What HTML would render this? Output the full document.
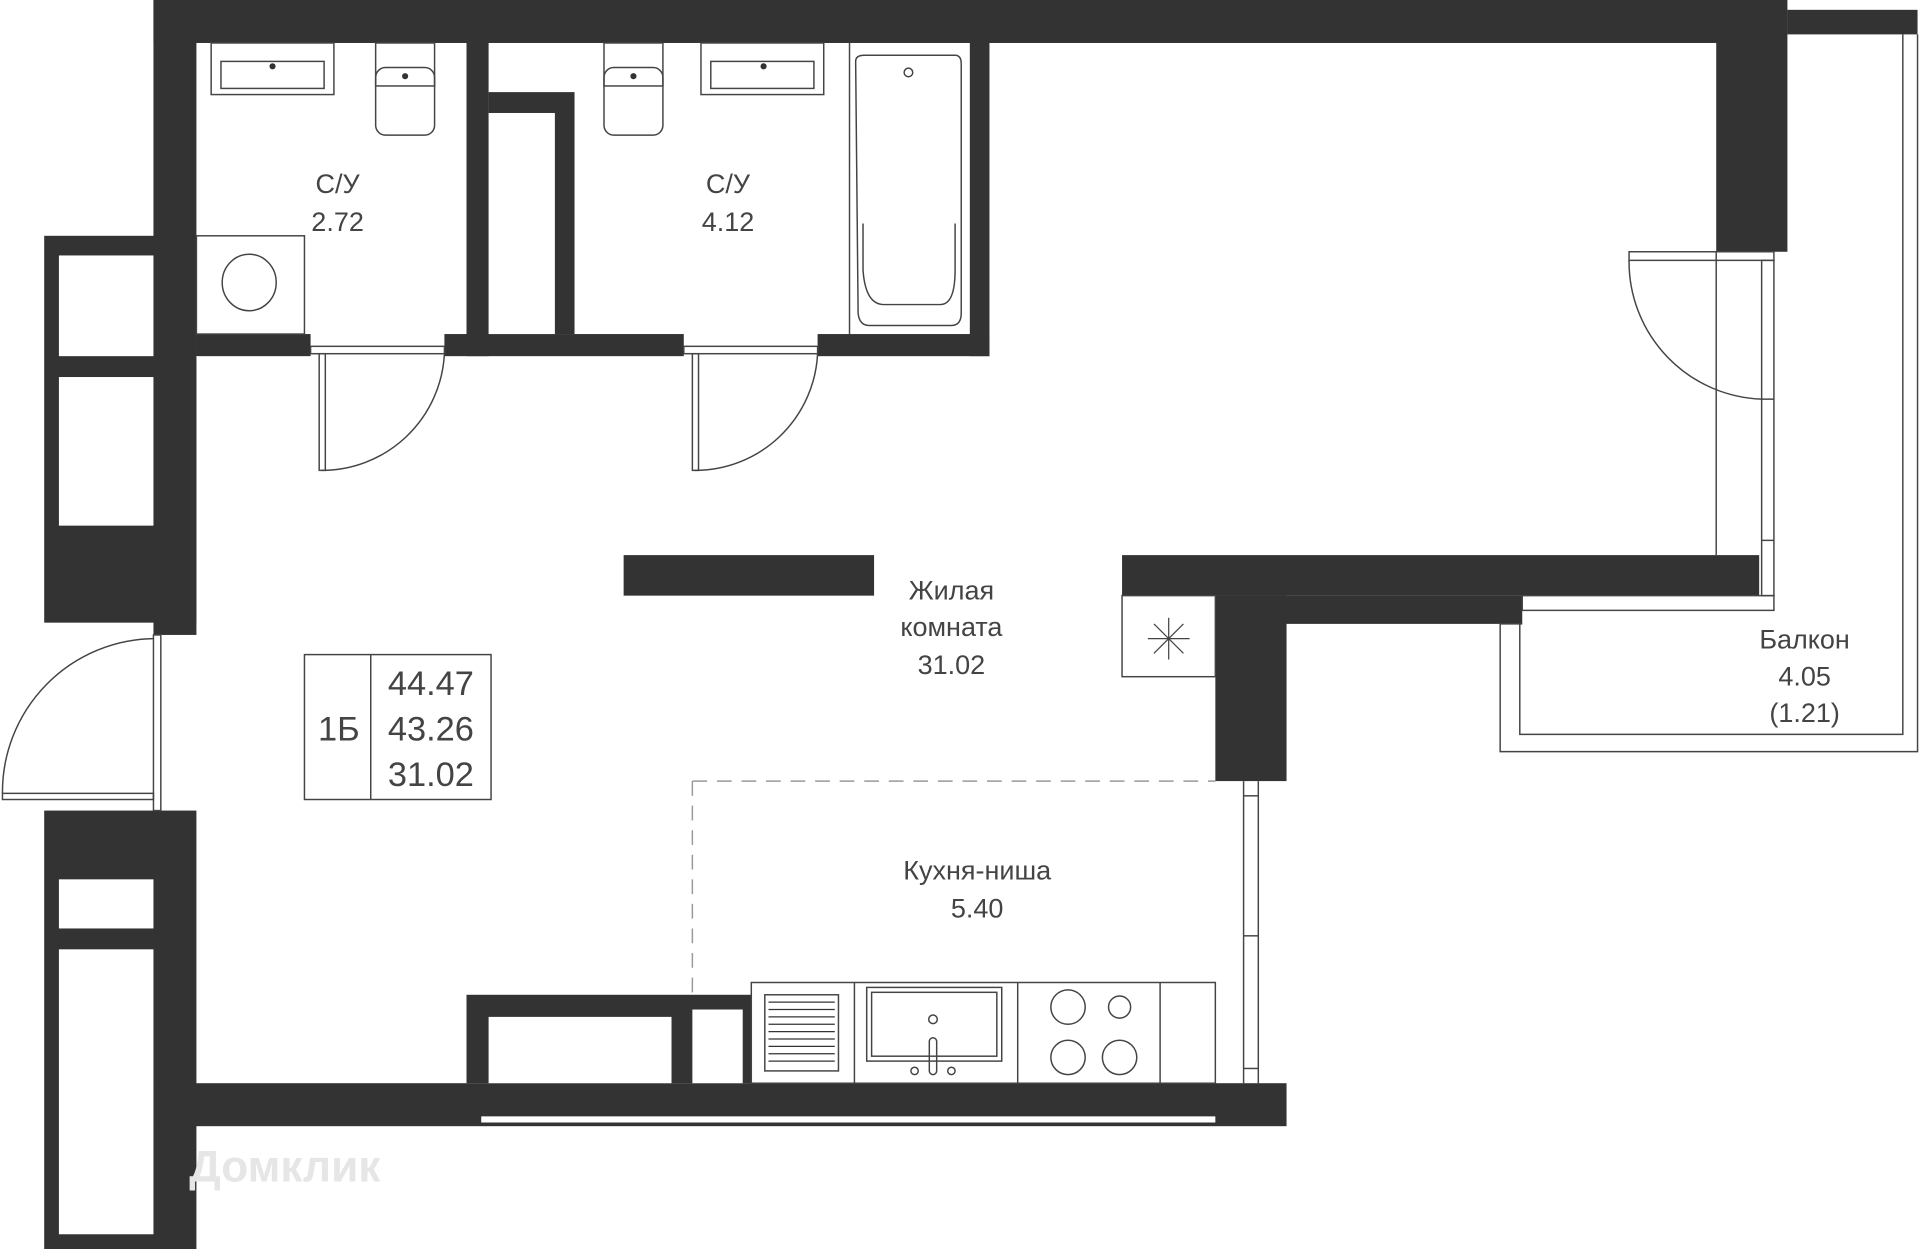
<!DOCTYPE html>
<html><head><meta charset="utf-8"><style>
html,body{margin:0;padding:0;background:#fff}
svg{display:block}
text{font-family:"Liberation Sans","DejaVu Sans",sans-serif;fill:#444;text-anchor:middle}
</style></head><body>
<svg width="1920" height="1249" viewBox="0 0 1564 1017" preserveAspectRatio="none" xmlns="http://www.w3.org/2000/svg">
<g fill="#333">
<rect x="125" y="0" width="1331" height="35"/>
<rect x="1456" y="8" width="106" height="20"/>
<rect x="1398" y="35" width="58" height="170"/>
<rect x="125" y="0" width="35" height="517"/>
<rect x="36" y="192" width="124" height="315"/>
<rect x="36" y="660" width="124" height="357"/>
<rect x="125" y="882" width="923" height="35"/>
<rect x="160" y="272" width="93" height="18"/>
<rect x="362" y="272" width="195" height="18"/>
<rect x="666" y="272" width="140" height="18"/>
<rect x="380" y="35" width="18" height="255"/>
<rect x="398" y="75" width="70" height="197"/>
<rect x="790" y="35" width="16" height="255"/>
<rect x="914" y="452" width="519" height="33"/>
<rect x="990" y="485" width="250" height="23"/>
<rect x="990" y="485" width="58" height="151"/>
<rect x="508" y="452" width="204" height="33"/>
<rect x="380" y="810" width="232" height="72"/>
</g>
<g fill="#fff">
<rect x="48" y="208" width="77" height="82"/>
<rect x="48" y="307" width="77" height="121"/>
<rect x="48" y="716" width="77" height="40"/>
<rect x="48" y="773" width="77" height="232"/>
<rect x="398" y="92" width="54" height="180"/>
<rect x="398" y="828" width="149" height="54"/>
<rect x="564" y="822" width="41" height="60"/>
<rect x="392" y="909" width="598" height="5"/>
<rect x="160" y="290" width="1" height="1"/>
</g>
<g fill="none" stroke="#444" stroke-width="1.2">
<!-- entry door -->
<rect x="125" y="517" width="6" height="143"/>
<path d="M125 520 A125 125 0 0 0 2 646"/>
<rect x="2" y="646" width="123" height="5"/>
<!-- bath doors -->
<rect x="253" y="282" width="109" height="6"/>
<rect x="260" y="288" width="5" height="95"/>
<path d="M262 383 A100 100 0 0 0 362 288"/>
<rect x="557" y="282" width="109" height="6"/>
<rect x="564" y="288" width="5" height="95"/>
<path d="M566 383 A100 100 0 0 0 666 288"/>
<!-- balcony door -->
<rect x="1327" y="205" width="118" height="7"/>
<path d="M1327 212 A112 112 0 0 0 1435 325"/>
<line x1="1398" y1="205" x2="1398" y2="452"/>
<rect x="1435" y="212" width="10" height="273"/>
<line x1="1435" y1="325" x2="1445" y2="325"/>
<line x1="1435" y1="440" x2="1445" y2="440"/>
<rect x="1240" y="485" width="205" height="12"/>
<!-- balcony -->
<path d="M1240 508 H1222 V612 H1562 V28"/>
<path d="M1238 508 V598 H1550 V28"/>
<!-- vent -->
<rect x="914" y="485" width="76" height="66"/>
<path d="M952 503 V537 M935 520 H969 M940 508 L964 532 M964 508 L940 532" stroke-width="1"/>
<!-- kitchen window -->
<line x1="1013" y1="636" x2="1013" y2="882"/>
<line x1="1025" y1="636" x2="1025" y2="882"/>
<line x1="1013" y1="648" x2="1025" y2="648"/>
<line x1="1013" y1="762" x2="1025" y2="762"/>
<line x1="1013" y1="870" x2="1025" y2="870"/>
<!-- dashed -->
<path d="M564 636 H990 M564 636 V810" stroke="#999" stroke-dasharray="12 8"/>
<!-- info box -->
<rect x="248" y="533" width="152" height="118"/>
<line x1="302" y1="533" x2="302" y2="651"/>
<!-- kitchen counter -->
<rect x="612" y="800" width="378" height="82"/>
<line x1="696" y1="800" x2="696" y2="882"/>
<line x1="829" y1="800" x2="829" y2="882"/>
<line x1="945" y1="800" x2="945" y2="882"/>
<rect x="623" y="810" width="60" height="62"/>
<rect x="706" y="804" width="110" height="60"/>
<rect x="710" y="808" width="102" height="52"/>
<circle cx="760" cy="830" r="3.5"/>
<rect x="757" y="845" width="6" height="30" rx="3"/>
<circle cx="745" cy="872" r="3"/><circle cx="775" cy="872" r="3"/>
<circle cx="870" cy="820" r="14"/><circle cx="912" cy="820" r="9"/>
<circle cx="870" cy="861" r="14"/><circle cx="912" cy="861" r="14"/>
<!-- bath 1 fixtures -->
<rect x="172" y="35" width="100" height="42"/>
<rect x="180" y="50" width="84" height="22"/>
<rect x="306" y="35" width="48" height="35"/>
<rect x="306" y="55" width="48" height="55" rx="8"/>
<rect x="160" y="192" width="88" height="80"/>
<ellipse cx="203" cy="230" rx="22" ry="23"/>
<!-- bath 2 fixtures -->
<rect x="492" y="35" width="48" height="35"/>
<rect x="492" y="55" width="48" height="55" rx="8"/>
<rect x="571" y="35" width="100" height="42"/>
<rect x="579" y="50" width="84" height="22"/>
<line x1="692" y1="35" x2="692" y2="272"/>
<path d="M697 50 Q697 45 704 45 H778 Q783 45 783 52 V255 Q783 265 775 265 H708 Q700 265 699 255 Z"/>
<path d="M703 182 V220 Q705 248 720 248 H766 Q778 248 778 220 V182"/>
<circle cx="740" cy="59" r="3.5"/>
</g>
<g fill="#333" font-size="10">
<circle cx="222" cy="54" r="2.5"/><circle cx="330" cy="62" r="2.5"/><circle cx="516" cy="62" r="2.5"/><circle cx="622" cy="54" r="2.5"/>
</g>
<g fill="#333"><g stroke="#333" stroke-width="1">
<line x1="626" y1="816" x2="680" y2="816"/><line x1="626" y1="822" x2="680" y2="822"/><line x1="626" y1="828" x2="680" y2="828"/><line x1="626" y1="834" x2="680" y2="834"/><line x1="626" y1="840" x2="680" y2="840"/><line x1="626" y1="846" x2="680" y2="846"/><line x1="626" y1="852" x2="680" y2="852"/><line x1="626" y1="858" x2="680" y2="858"/><line x1="626" y1="864" x2="680" y2="864"/>
</g></g>
<g font-size="22">
<text x="275" y="157">С/У</text><text x="275" y="188">2.72</text>
<text x="593" y="157">С/У</text><text x="593" y="188">4.12</text>
<text x="775" y="488">Жилая</text><text x="775" y="518">комната</text><text x="775" y="549">31.02</text>
<text x="1470" y="528">Балкон</text><text x="1470" y="558">4.05</text><text x="1470" y="588">(1.21)</text>
<text x="796" y="716">Кухня-ниша</text><text x="796" y="747">5.40</text>
</g>
<g font-size="28">
<text x="276" y="603">1Б</text>
<text x="351" y="566">44.47</text><text x="351" y="603">43.26</text><text x="351" y="640">31.02</text>
</g>
<text x="232" y="962" font-size="36" font-weight="bold" style="fill:#e6e6e6">Домклик</text>
</svg>
</body></html>
